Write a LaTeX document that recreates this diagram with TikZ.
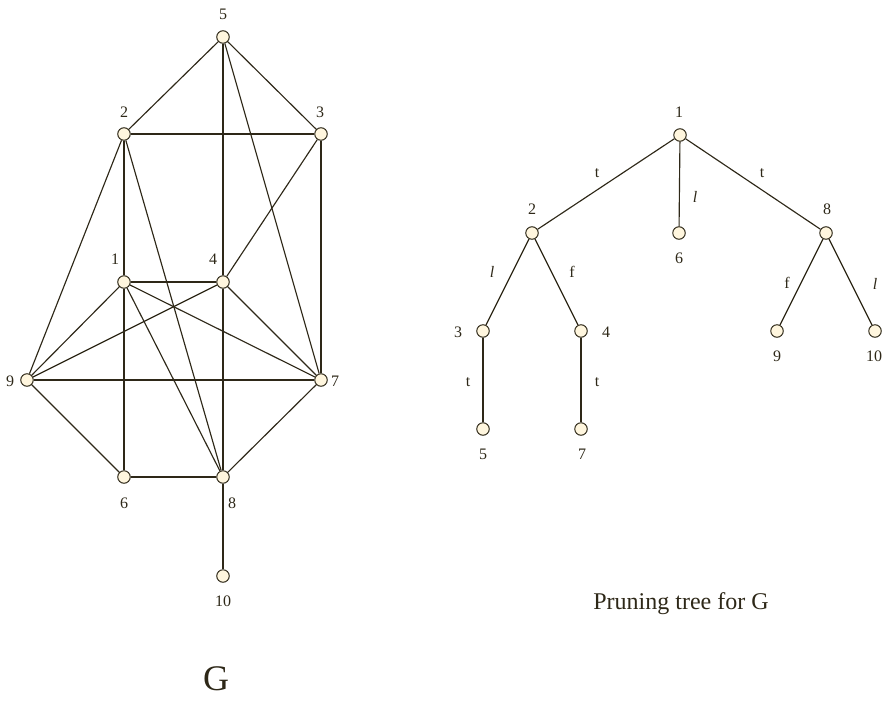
\documentclass[tikz,border=0pt]{standalone}
\usepackage{fontspec}
\setmainfont{Liberation Serif}
\definecolor{lc}{HTML}{2E2818}
\definecolor{nf}{HTML}{FFF6DE}
\begin{document}
\begin{tikzpicture}[x=1pt,y=-1pt,
  v/.style={circle, draw=lc, fill=nf, line width=1pt, inner sep=0pt, minimum size=12.5pt},
  lab/.style={font=\fontsize{16}{16}\selectfont, text=lc, inner sep=0pt},
  ilab/.style={lab, font=\fontsize{16}{16}\selectfont\itshape},
  ed/.style={draw=lc, line width=1.15pt}]
\useasboundingbox (0,0) rectangle (885,715);
% ---------- graph G ----------
\node[v] (g5) at (223,37) {};
\node[v] (g2) at (124,134) {};
\node[v] (g3) at (321,134) {};
\node[v] (g1) at (124,282) {};
\node[v] (g4) at (223,282) {};
\node[v] (g9) at (27,380) {};
\node[v] (g7) at (321,380) {};
\node[v] (g6) at (124,477) {};
\node[v] (g8) at (223,477) {};
\node[v] (g10) at (223,576) {};
\foreach \a/\b in {5/2,5/3,5/4,5/7,2/3,2/1,2/9,2/8,3/4,3/7,1/4,1/9,1/6,1/7,1/8,4/9,4/7,4/8,9/7,9/6,6/8,8/7,8/10}
  \draw[ed] (g\a) -- (g\b);
\node[lab] (gl5) at (223,14) {5};
\node[lab] (gl2) at (124,112) {2};
\node[lab] (gl3) at (320,112) {3};
\node[lab] (gl1) at (115,259) {1};
\node[lab] (gl4) at (213,259) {4};
\node[lab] (gl9) at (10,381) {9};
\node[lab] (gl7) at (335,381) {7};
\node[lab] (gl6) at (124,503) {6};
\node[lab] (gl8) at (232,503) {8};
\node[lab] (gl10) at (223,601) {10};
\node[text=lc, inner sep=0pt, font=\fontsize{36}{36}\selectfont] (gtitle) at (216,679) {G};
% ---------- pruning tree ----------
\node[v] (t1) at (680,135) {};
\node[v] (t2) at (532,233) {};
\node[v] (t6) at (679,233) {};
\node[v] (t8) at (826,233) {};
\node[v] (t3) at (483,331) {};
\node[v] (t4) at (581,331) {};
\node[v] (t9) at (777,331) {};
\node[v] (t10) at (875,331) {};
\node[v] (t5) at (483,429) {};
\node[v] (t7) at (581,429) {};
\foreach \a/\b in {1/2,1/6,1/8,2/3,2/4,8/9,8/10,3/5,4/7}
  \draw[ed] (t\a) -- (t\b);
\node[lab] (tl1) at (679,112) {1};
\node[lab] (tl2) at (532,209) {2};
\node[lab] (tl8) at (827,209) {8};
\node[lab] (tl6) at (679,258) {6};
\node[lab] (tl3) at (458,332) {3};
\node[lab] (tl4) at (606,332) {4};
\node[lab] (tl9) at (777,356) {9};
\node[lab] (tl10) at (874,356) {10};
\node[lab] (tl5) at (483,454) {5};
\node[lab] (tl7) at (582,454) {7};
\node[lab] (e12) at (597,173) {t};
\node[ilab] (e16) at (695,197) {l};
\node[lab] (e18) at (762,173) {t};
\node[ilab] (e23) at (492,272) {l};
\node[lab] (e24) at (572,272) {f};
\node[lab] (e89) at (787,283) {f};
\node[ilab] (e810) at (875,284) {l};
\node[lab] (e35) at (468,382) {t};
\node[lab] (e47) at (597,382) {t};
\node[text=lc, inner sep=0pt, font=\fontsize{24}{24}\selectfont] (ttitle) at (681,604) {Pruning tree for G};
\end{tikzpicture}
\end{document}
